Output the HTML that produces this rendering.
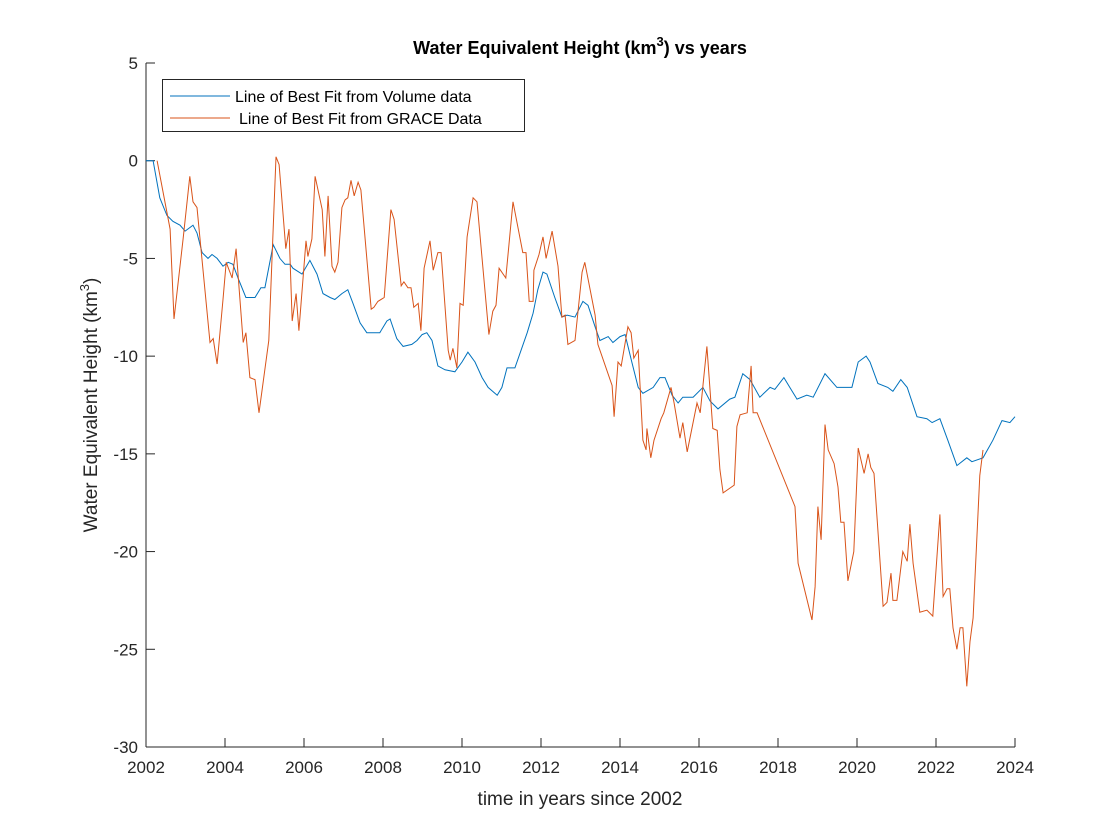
<!DOCTYPE html>
<html><head><meta charset="utf-8"><style>
html,body{margin:0;padding:0;background:#fff;}
svg{display:block;font-family:"Liberation Sans",Arial,sans-serif;}
</style></head><body>
<svg id="chart" width="1120" height="840" viewBox="0 0 1120 840" xmlns="http://www.w3.org/2000/svg">
<rect x="0" y="0" width="1120" height="840" fill="#fff"/>
<text x="580" y="54" text-anchor="middle" font-size="18" font-weight="bold" fill="#000">Water Equivalent Height (km<tspan dy="-8" font-size="13">3</tspan><tspan dy="8">) vs years</tspan></text>
<g id="axes"></g>
<g id="series"></g>
<text x="580" y="805" text-anchor="middle" font-size="19" fill="#262626">time in years since 2002</text>
<text transform="translate(97,405) rotate(-90)" text-anchor="middle" font-size="19" fill="#262626">Water Equivalent Height (km<tspan dy="-8" font-size="13">3</tspan><tspan dy="8">)</tspan></text>
<g>
<rect x="162.5" y="79.5" width="362" height="52" fill="#fff" stroke="#262626" stroke-width="1"/>
<line x1="170" y1="96" x2="230" y2="96" stroke="#0072BD" stroke-width="1"/>
<text x="235" y="102" font-size="16" fill="#000">Line of Best Fit from Volume data</text>
<line x1="170" y1="118" x2="230" y2="118" stroke="#D95319" stroke-width="1"/>
<text x="239" y="124" font-size="16" fill="#000">Line of Best Fit from GRACE Data</text>
</g>
</svg>
<script>
const xTicks=[2002,2004,2006,2008,2010,2012,2014,2016,2018,2020,2022,2024];
const yTicks=[5,0,-5,-10,-15,-20,-25,-30];
const volumeYears=[0,0.18,0.35,0.53,0.68,0.86,0.99,1.19,1.29,1.42,1.57,1.67,1.80,1.95,2.08,2.20,2.33,2.53,2.63,2.76,2.91,3.01,3.22,3.39,3.52,3.65,3.72,3.95,4.15,4.33,4.48,4.66,4.78,4.96,5.11,5.24,5.42,5.59,5.75,5.92,6.10,6.18,6.35,6.51,6.73,6.86,6.99,7.11,7.24,7.39,7.57,7.82,8.00,8.15,8.33,8.51,8.66,8.89,9.01,9.14,9.34,9.65,9.80,9.92,10.05,10.15,10.35,10.53,10.66,10.86,11.06,11.19,11.37,11.49,11.70,11.82,12.00,12.13,12.30,12.46,12.58,12.84,13.01,13.14,13.32,13.47,13.59,13.85,14.10,14.28,14.48,14.78,14.91,15.11,15.29,15.54,15.80,15.92,16.15,16.30,16.48,16.73,16.89,17.19,17.49,17.65,17.87,18.03,18.23,18.33,18.53,18.78,18.91,19.11,19.27,19.52,19.77,19.90,20.10,20.30,20.53,20.78,20.91,21.19,21.44,21.67,21.87,22.00];
const volumeValues=[0,0,-1.9,-2.8,-3.1,-3.3,-3.6,-3.3,-3.7,-4.7,-5.0,-4.8,-5.0,-5.4,-5.2,-5.3,-6.0,-7.0,-7.0,-7.0,-6.5,-6.5,-4.3,-5.0,-5.3,-5.3,-5.5,-5.8,-5.1,-5.8,-6.8,-7.0,-7.1,-6.8,-6.6,-7.3,-8.3,-8.8,-8.8,-8.8,-8.2,-8.1,-9.1,-9.5,-9.4,-9.2,-8.9,-8.8,-9.2,-10.5,-10.7,-10.8,-10.3,-9.8,-10.3,-11.1,-11.6,-12.0,-11.6,-10.6,-10.6,-8.8,-7.8,-6.6,-5.7,-5.8,-7.0,-8.0,-7.9,-8.0,-7.2,-7.4,-8.5,-9.2,-9.0,-9.3,-9.0,-8.9,-10.3,-11.6,-11.9,-11.6,-11.1,-11.1,-12.0,-12.4,-12.1,-12.1,-11.6,-12.3,-12.7,-12.2,-12.1,-10.9,-11.2,-12.1,-11.6,-11.7,-11.1,-11.6,-12.2,-12.0,-12.1,-10.9,-11.6,-11.6,-11.6,-10.3,-10.0,-10.3,-11.4,-11.6,-11.8,-11.2,-11.6,-13.1,-13.2,-13.4,-13.2,-14.3,-15.6,-15.2,-15.4,-15.2,-14.3,-13.3,-13.4,-13.1];
const graceYears=[0.28,0.61,0.71,0.94,1.11,1.19,1.29,1.62,1.70,1.80,1.95,2.03,2.18,2.28,2.46,2.53,2.63,2.76,2.86,3.11,3.29,3.37,3.54,3.62,3.70,3.80,3.87,4.05,4.10,4.20,4.28,4.46,4.53,4.61,4.71,4.78,4.86,4.96,5.04,5.11,5.19,5.27,5.37,5.44,5.70,5.77,5.87,6.03,6.20,6.28,6.46,6.53,6.63,6.71,6.78,6.89,6.96,7.04,7.19,7.27,7.39,7.47,7.65,7.70,7.77,7.87,7.95,8.03,8.13,8.28,8.38,8.68,8.78,8.86,8.94,9.11,9.29,9.54,9.62,9.70,9.80,9.82,9.95,10.05,10.13,10.28,10.43,10.53,10.61,10.68,10.86,11.04,11.11,11.37,11.44,11.80,11.85,11.95,12.03,12.20,12.28,12.35,12.46,12.58,12.66,12.68,12.78,12.86,13.04,13.11,13.29,13.37,13.52,13.59,13.70,13.95,14.03,14.20,14.35,14.46,14.53,14.61,14.89,14.96,15.04,15.22,15.32,15.37,15.47,16.43,16.51,16.86,16.94,17.01,17.09,17.19,17.27,17.42,17.52,17.59,17.67,17.77,17.92,18.03,18.18,18.28,18.35,18.43,18.66,18.76,18.86,18.91,19.01,19.16,19.27,19.34,19.42,19.59,19.77,19.92,20.10,20.18,20.28,20.35,20.43,20.53,20.61,20.68,20.78,20.86,20.94,21.11,21.19];
const graceValues=[0,-3.5,-8.1,-4.0,-0.8,-2.1,-2.4,-9.3,-9.1,-10.4,-7.1,-5.2,-6.0,-4.5,-9.3,-8.8,-11.1,-11.2,-12.9,-9.2,0.2,-0.2,-4.5,-3.5,-8.2,-6.8,-8.7,-4.1,-4.9,-4.0,-0.8,-2.5,-4.9,-1.8,-5.4,-5.7,-5.2,-2.4,-2.0,-1.9,-1.0,-1.8,-1.1,-1.5,-7.6,-7.5,-7.2,-7.0,-2.5,-3.0,-6.4,-6.2,-6.5,-6.5,-7.5,-7.3,-8.7,-5.5,-4.1,-5.6,-4.7,-4.7,-9.7,-10.2,-9.6,-10.6,-7.3,-7.4,-3.9,-1.9,-2.1,-8.9,-7.7,-7.4,-5.5,-6.0,-2.1,-4.7,-4.7,-7.2,-7.2,-5.6,-4.8,-3.9,-5.0,-3.6,-5.4,-8.0,-7.9,-9.4,-9.2,-5.7,-5.2,-7.9,-9.4,-11.5,-13.1,-10.3,-10.5,-8.5,-8.8,-10.1,-9.7,-14.3,-14.8,-13.7,-15.2,-14.3,-13.2,-12.9,-11.6,-12.4,-14.2,-13.4,-14.9,-12.4,-12.9,-9.5,-13.7,-13.8,-15.8,-17.0,-16.6,-13.6,-13.0,-12.9,-10.5,-12.9,-12.9,-17.7,-20.6,-23.5,-21.8,-17.7,-19.4,-13.5,-14.8,-15.5,-16.7,-18.5,-18.5,-21.5,-20.0,-14.7,-16.0,-15.0,-15.7,-16.0,-22.8,-22.6,-21.1,-22.5,-22.5,-20.0,-20.5,-18.6,-20.6,-23.1,-23.0,-23.3,-18.1,-22.3,-21.9,-21.9,-23.9,-25.0,-23.9,-23.9,-26.9,-24.6,-23.4,-16.1,-14.8];

const NS='http://www.w3.org/2000/svg';
const L=146,R=1015,T=63,B=747;
const xMin=2002,xMax=2024,yMin=-30,yMax=5;
function xs(v){return L+(v-xMin)/(xMax-xMin)*(R-L);}
function ys(v){return B-(v-yMin)/(yMax-yMin)*(B-T);}
const axes=document.getElementById('axes');
const series=document.getElementById('series');
function mk(tag,attrs,parent){const e=document.createElementNS(NS,tag);for(const k in attrs)e.setAttribute(k,attrs[k]);parent.appendChild(e);return e;}

const yAxis=mk('line',{x1:L,y1:T,x2:L,y2:B,stroke:'#262626','stroke-width':1},axes);


const xAxis=mk('line',{x1:L,y1:B,x2:R,y2:B,stroke:'#262626','stroke-width':1},axes);



xTicks.forEach(t=>{
  const x=xs(t);
  const tk=mk('line',{x1:x,y1:B,x2:x,y2:B-9,stroke:'#262626','stroke-width':1},axes);
  
  
  const lb=mk('text',{x:x,y:B+26,'text-anchor':'middle','font-size':'17',fill:'#262626'},axes);
  lb.textContent=t;
  
  
});
yTicks.forEach(t=>{
  const y=ys(t);
  const tk=mk('line',{x1:L,y1:y,x2:L+9,y2:y,stroke:'#262626','stroke-width':1},axes);
  
  
  const lb=mk('text',{x:L-8,y:y+6,'text-anchor':'end','font-size':'17',fill:'#262626'},axes);
  lb.textContent=t;
  
  
});

function pathFrom(yrs,vals){return yrs.map((yv,i)=>(i?'L':'M')+xs(xMin+yv).toFixed(1)+','+ys(vals[i]).toFixed(1)).join(' ');}
const pv=mk('path',{d:pathFrom(volumeYears,volumeValues),fill:'none',stroke:'#0072BD','stroke-width':1},series);


const pg=mk('path',{d:pathFrom(graceYears,graceValues),fill:'none',stroke:'#D95319','stroke-width':1},series);


</script>
</body></html>
